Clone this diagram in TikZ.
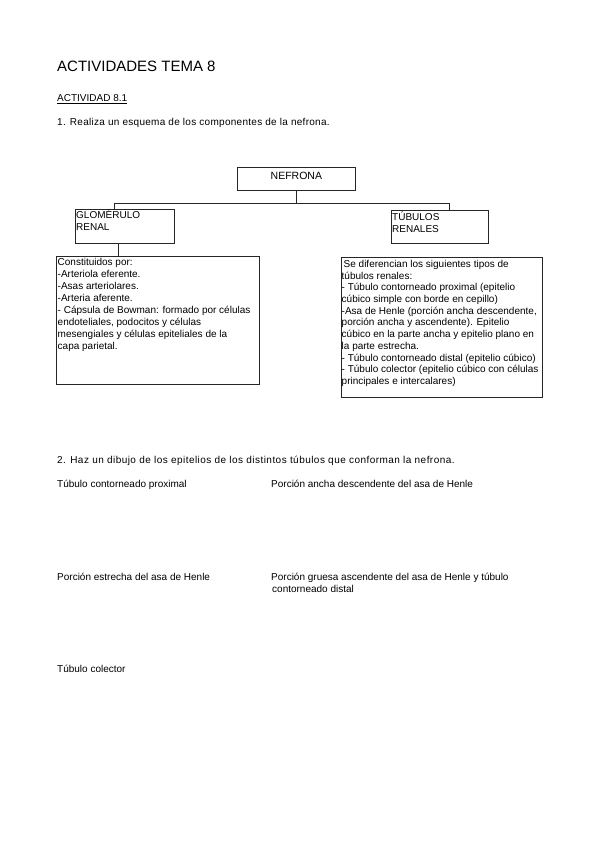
\documentclass[tikz,border=0pt]{standalone}
\usepackage{fontspec}
\setmainfont{Liberation Sans}
\usetikzlibrary{positioning}
\def\hdr{\fontsize{15}{18}\selectfont}
\def\ten{\fontsize{10}{12}\selectfont}
\tikzset{
  box/.style={draw=black!85,line width=0.8pt,rectangle,inner sep=0pt,anchor=north west},
  txt/.style={inner sep=0pt,anchor=base west,font=\ten},
  btxt/.style={inner sep=0pt,anchor=north west,align=left,font=\ten},
  wire/.style={draw=black!85,line width=0.8pt}
}

\begin{document}
\begin{tikzpicture}[x=1pt,y=-1pt]
\useasboundingbox (0,0) rectangle (599,848);
\node[txt,font=\hdr] (title) at (57,72) {ACTIVIDADES TEMA 8};
\node[txt] (act) at (57,102) {\underline{ACTIVIDAD 8.1}};
\node[txt] (q1) at (57,125) {\addfontfeature{LetterSpace=2.9}1. Realiza un esquema de los componentes de la nefrona.};

\node[box,minimum width=118,minimum height=23,text depth=7pt,font=\fontsize{10.5}{12}\selectfont] (nefrona) at (237,167) {NEFRONA\hspace{6pt}};
\node[box,minimum width=99,minimum height=34] (glom) at (75,209) {};
\node[box,minimum width=97,minimum height=33] (tub) at (391,210) {};
\node[box,minimum width=203,minimum height=128] (glomtxt) at (56,256) {};
\node[box,minimum width=201,minimum height=140] (tubtxt) at (341,257) {};

\node[btxt] (glomlab) at ([shift={(1,1)}]glom.north west) {GLOMÉRULO\\RENAL};
\node[btxt] (tublab) at ([shift={(1,1.5)}]tub.north west) {TÚBULOS\\RENALES};
\node[btxt] (glomlist) at ([shift={(1.5,2)}]glomtxt.north west) {%
Constituidos por:\\
-Arteriola eferente.\\
-Asas arteriolares.\\
-Arteria aferente.\\
- Cápsula de Bowman: formado por células\\
endoteliales, podocitos y células\\
mesengiales y células epiteliales de la\\
capa parietal.};
\node[btxt,font=\fontsize{10}{11.7}\selectfont] (tublist) at ([shift={(0.5,3)}]tubtxt.north west) {%
\hspace{2pt}Se diferencian los siguientes tipos de\\
túbulos renales:\\
- Túbulo contorneado proximal (epitelio\\
cúbico simple con borde en cepillo)\\
-Asa de Henle (porción ancha descendente,\\
porción ancha y ascendente). Epitelio\\
cúbico en la parte ancha y epitelio plano en\\
la parte estrecha.\\
- Túbulo contorneado distal (epitelio cúbico)\\
- Túbulo colector (epitelio cúbico con células\\
principales e intercalares)};

\draw[wire] (nefrona.south) -- ++(0,13) coordinate (hub);
\draw[wire] ([xshift=-10.5]glom.north) |- (hub) -| ([xshift=9.5]tub.north);
\draw[wire] ([xshift=-6.5]glom.south) -- ([xshift=-6.5]glom.south |- glomtxt.north);

\node[txt] (q2) at (57,463) {\addfontfeature{LetterSpace=4.6}2. Haz un dibujo de los epitelios de los distintos túbulos que conforman la nefrona.};
\node[txt] (lab1) at (57,487) {Túbulo contorneado proximal};
\node[txt] (lab2) at (271,487) {Porción ancha descendente del asa de Henle};
\node[txt] (lab3) at (57,580) {Porción estrecha del asa de Henle};
\node[btxt] (lab4) at (271,572.8) {Porción gruesa ascendente del asa de Henle y túbulo\\\hspace{1pt}contorneado distal};
\node[txt] (lab5) at (57,672) {Túbulo colector};
\end{tikzpicture}
\end{document}
